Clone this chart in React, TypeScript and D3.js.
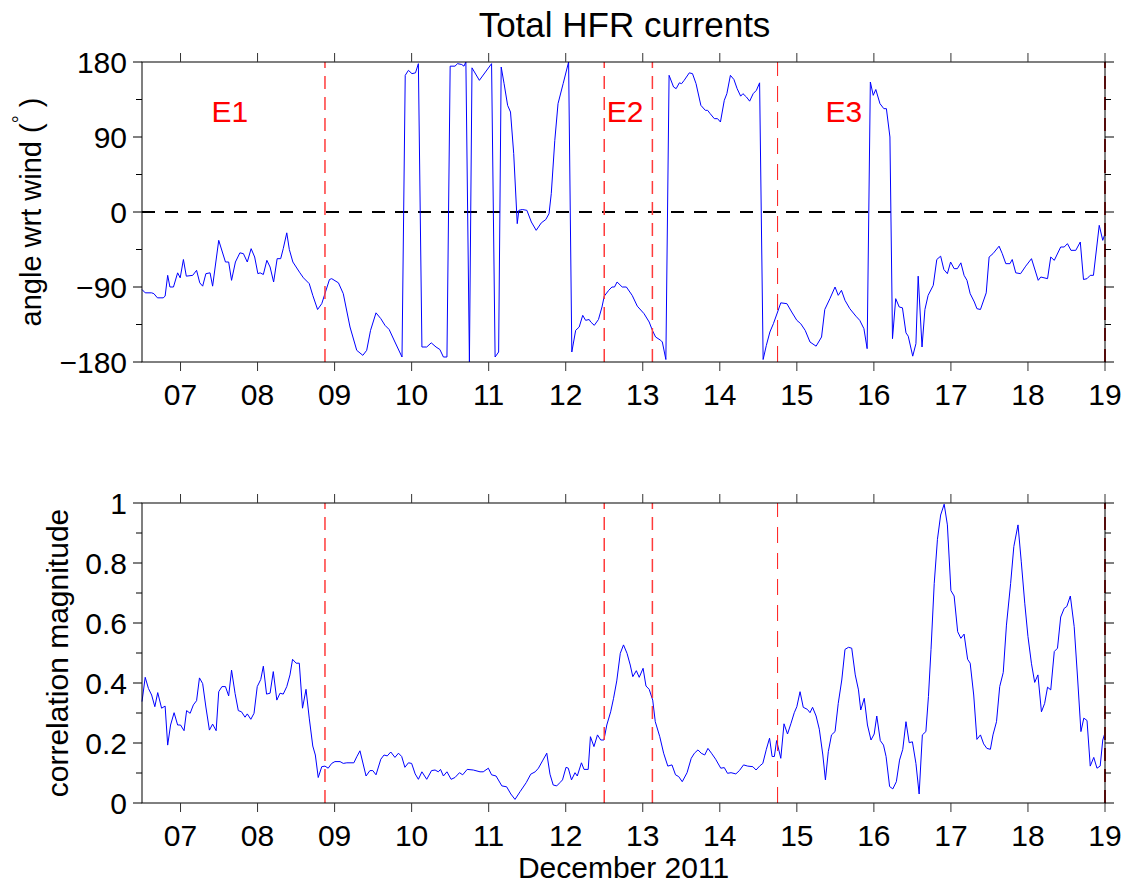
import * as d3 from "d3";

// hours after 06 Dec 2011 12:00, angle of current wrt wind (deg)
const angleSeries: [number, number][] = [
  [0, -93], [1, -97], [3, -97], [3.7, -98], [4.8, -103], [6.6, -103], [7.2, -101], [8, -76], [8.7, -90], [9.8, -90],
  [11.1, -73], [11.9, -79], [12.9, -57], [13.8, -77], [15.8, -76], [17, -70], [18, -85], [18.9, -89], [19.9, -74], [21.2, -73],
  [22, -89], [23.9, -34], [26, -60], [27, -60], [27.9, -82], [29.1, -60], [30.5, -49], [31.6, -50], [32.8, -60], [34, -44],
  [35.1, -54], [36.1, -74], [36.8, -73], [37.8, -75], [38.9, -58], [39.9, -66], [41, -84], [42.1, -56], [43.2, -56], [44, -44],
  [45.1, -25], [45.9, -45], [47, -60], [49.2, -73], [50.3, -79], [52.1, -86], [53.2, -100], [54.7, -117], [56, -110], [58.4, -81],
  [59.1, -80], [61.2, -85], [62.7, -98], [64.8, -138], [66.9, -166], [68.8, -172], [70, -166], [71.2, -142], [72.9, -121], [74.4, -128],
  [75.7, -136], [77, -141], [78.8, -156], [81, -174], [82, 164], [83, 170], [84.1, 166], [85.2, 167], [86.1, 178], [87.2, -162],
  [88.7, -162], [90.1, -157], [91.6, -162], [92.8, -165], [93.9, -174], [95, -174], [96, 175], [97.5, 175], [98.3, 178], [99.6, 177],
  [100.3, 175], [100.9, 180], [102, -180], [102.8, 173], [105.1, 158], [108.9, 178], [110, -174], [111.1, -168], [111.9, 174], [112.8, 154],
  [113.9, 128], [114.8, 120], [115.8, 70], [116.9, -14], [117.4, 2], [118.5, 3], [119.9, 2], [121.3, -12], [122.8, -22], [124.4, -13],
  [125.8, -9], [126.8, -2], [127.5, 22], [128.6, 86], [129.6, 130], [131.2, 154], [132.9, 180], [133.9, -168], [135.1, -142], [136.2, -138],
  [137.3, -124], [138.2, -130], [139.3, -129], [139.8, -132], [140.9, -136], [142.2, -129], [143.3, -114], [144, -101], [145.4, -94], [146.4, -90],
  [147.2, -90], [148, -84], [149.6, -90], [150.9, -90], [152.7, -100], [154.3, -113], [156.4, -122], [158, -132], [159, -142], [160, -150],
  [161.6, -154], [162.1, -156], [163.2, -177], [164.2, 164], [165.6, 150], [166.4, 148], [167.4, 155], [168.1, 154], [168.9, 158], [170.5, 167],
  [171.5, 166], [172.6, 154], [174.1, 128], [175.5, 122], [176.2, 122], [177, 118], [178.3, 112], [179.3, 112], [180.2, 108], [181.4, 134],
  [182.2, 142], [183.3, 164], [184.4, 159], [185.4, 148], [186.5, 139], [187.2, 142], [188.3, 138], [189.3, 133], [190.4, 142], [191.4, 146],
  [192.4, 155], [193.5, -177], [194.5, -160], [195.6, -144], [196.7, -134], [198, -120], [199, -109], [200.9, -110], [202.4, -120], [204, -130],
  [205.2, -134], [206.6, -142], [208.1, -156], [210, -161], [211.7, -150], [212.7, -117], [214.3, -104], [215.9, -90], [216.9, -100], [217.9, -94],
  [219, -106], [220.5, -116], [222.4, -125], [223.6, -130], [224.9, -140], [225.9, -164], [226.9, 156], [227.8, 140], [228.6, 147], [229.9, 130],
  [231.1, 124], [231.9, 124], [233, 90], [233.8, -152], [234.8, -104], [235.9, -114], [236.9, -115], [238, -145], [238.7, -149], [240.1, -173],
  [241.1, -158], [241.8, -77], [243, -162], [243.9, -117], [244.9, -100], [246.5, -88], [247.6, -57], [248.8, -53], [249.8, -69], [250.9, -74],
  [251.9, -60], [253, -68], [254, -68], [255.1, -61], [256.1, -76], [257, -82], [258, -98], [259.3, -108], [260.1, -116], [261.2, -117],
  [263, -97], [263.9, -54], [265.1, -50], [267, -41], [268, -50], [269.1, -62], [270.4, -62], [271.1, -57], [272.2, -73], [273.7, -74],
  [275.3, -65], [277.1, -56], [279.2, -82], [280, -78], [282.1, -80], [283.1, -54], [284.2, -58], [286.2, -42], [287.3, -42], [288.3, -38],
  [289.4, -46], [290.9, -46], [292.3, -36], [293.3, -81], [294.4, -80], [295.4, -76], [296.4, -76], [298.2, -16], [299.3, -34], [300, -26],
];

// hours after 06 Dec 2011 12:00, correlation magnitude
const corrSeries: [number, number][] = [
  [0, 0.338], [1, 0.419], [2, 0.382], [3, 0.36], [4, 0.321], [4.9, 0.368], [6.1, 0.316], [7.2, 0.323], [8, 0.193], [8.9, 0.26],
  [10, 0.301], [11.1, 0.26], [12, 0.26], [13.1, 0.241], [13.9, 0.308], [15, 0.299], [16, 0.327], [17, 0.341], [17.9, 0.417], [18.9, 0.398],
  [19.9, 0.32], [21, 0.243], [22, 0.263], [23.1, 0.241], [23.9, 0.371], [24.9, 0.388], [26, 0.388], [27, 0.357], [27.9, 0.443], [29, 0.365],
  [30, 0.308], [31, 0.304], [32.1, 0.286], [32.8, 0.297], [33.9, 0.279], [34.9, 0.299], [35.9, 0.388], [37, 0.412], [37.8, 0.456], [38.8, 0.363],
  [39.9, 0.366], [40.9, 0.438], [42, 0.343], [43, 0.366], [44, 0.363], [45.1, 0.388], [46.1, 0.427], [46.9, 0.479], [48, 0.466], [49, 0.466],
  [50, 0.316], [51.1, 0.379], [52.1, 0.283], [53.2, 0.19], [54, 0.16], [54.9, 0.085], [56, 0.121], [57, 0.123], [58, 0.116], [59.1, 0.132],
  [60.1, 0.138], [61.7, 0.138], [62.7, 0.132], [63.8, 0.134], [64.8, 0.134], [66, 0.134], [66.9, 0.154], [67.9, 0.174], [69.8, 0.09], [71, 0.108],
  [71.9, 0.108], [72.9, 0.094], [74.4, 0.146], [75.4, 0.16], [76.4, 0.157], [77.5, 0.17], [78.8, 0.152], [79.9, 0.166], [80.9, 0.155], [81.9, 0.119],
  [83, 0.134], [84, 0.132], [85.1, 0.097], [86.1, 0.079], [87.2, 0.104], [88.7, 0.079], [90.2, 0.108], [91.3, 0.11], [92.3, 0.104], [93, 0.112],
  [93.9, 0.09], [95, 0.104], [96.3, 0.079], [97.5, 0.085], [98.9, 0.101], [99.9, 0.094], [101.3, 0.112], [103.2, 0.11], [105.3, 0.104], [106.3, 0.104],
  [107.9, 0.116], [108.9, 0.094], [110.3, 0.09], [112.1, 0.057], [113.6, 0.054], [114.9, 0.03], [116.2, 0.012], [117.8, 0.038], [119.7, 0.068], [121.1, 0.096],
  [122.5, 0.104], [123.5, 0.116], [124.9, 0.143], [126.1, 0.166], [127.1, 0.096], [128.1, 0.06], [129.2, 0.057], [130.2, 0.068], [131, 0.077], [132.1, 0.119],
  [132.8, 0.116], [133.8, 0.077], [134.9, 0.101], [135.6, 0.09], [136.9, 0.134], [137.7, 0.112], [139, 0.112], [139.7, 0.221], [140.8, 0.188], [141.9, 0.227],
  [142.9, 0.21], [143.9, 0.21], [144.8, 0.26], [146, 0.304], [146.9, 0.349], [147.9, 0.407], [149, 0.499], [150, 0.527], [151.1, 0.499], [152.1, 0.46],
  [152.9, 0.421], [154, 0.441], [154.9, 0.419], [156.1, 0.449], [157, 0.39], [158, 0.379], [159.1, 0.343], [159.9, 0.271], [161.3, 0.221], [162.5, 0.166],
  [163.8, 0.123], [165.1, 0.127], [166.2, 0.094], [167.2, 0.088], [168.3, 0.071], [169.8, 0.101], [171.1, 0.149], [172.1, 0.166], [173.2, 0.177], [174.2, 0.166],
  [175.3, 0.16], [176.3, 0.182], [177.4, 0.166], [178.7, 0.146], [180.3, 0.116], [181.4, 0.118], [182.4, 0.099], [183.5, 0.101], [185, 0.097], [186.1, 0.108],
  [187.4, 0.127], [188.7, 0.123], [190.3, 0.121], [191.3, 0.11], [192.4, 0.123], [193.4, 0.132], [194.5, 0.179], [195.5, 0.216], [196.3, 0.155], [197, 0.155],
  [197.7, 0.208], [199, 0.149], [200, 0.264], [201.1, 0.23], [202.2, 0.266], [203.2, 0.301], [204, 0.321], [205, 0.371], [206, 0.319], [207.3, 0.312],
  [208.1, 0.301], [208.9, 0.319], [210, 0.29], [211, 0.246], [212.1, 0.16], [212.9, 0.077], [213.8, 0.171], [214.8, 0.227], [215.9, 0.238], [216.9, 0.332],
  [218, 0.41], [219, 0.512], [220.1, 0.519], [221.1, 0.516], [222.2, 0.427], [223.2, 0.377], [223.9, 0.31], [225, 0.349], [226, 0.26], [227.1, 0.21],
  [228.1, 0.23], [228.9, 0.29], [230, 0.208], [231, 0.193], [231.8, 0.155], [232.9, 0.055], [233.9, 0.047], [235, 0.071], [236, 0.143], [237, 0.179],
  [238, 0.271], [239, 0.201], [240, 0.204], [241.1, 0.132], [242.1, 0.03], [243.1, 0.227], [244.2, 0.238], [245, 0.355], [245.8, 0.512], [246.8, 0.732],
  [247.8, 0.879], [248.8, 0.96], [249.9, 0.996], [250.9, 0.927], [252, 0.708], [253, 0.69], [254.1, 0.571], [255.1, 0.549], [256.1, 0.563], [257.2, 0.479],
  [258, 0.466], [259.1, 0.36], [260.1, 0.212], [261.2, 0.227], [262.2, 0.197], [263.2, 0.182], [264.3, 0.179], [265.1, 0.227], [266.2, 0.271], [267.2, 0.388],
  [268.3, 0.435], [269.3, 0.593], [270.6, 0.732], [271.6, 0.855], [272.9, 0.927], [273.9, 0.806], [275, 0.666], [276, 0.555], [277.1, 0.464], [278.1, 0.402],
  [279.1, 0.427], [280.2, 0.304], [281.2, 0.332], [282.1, 0.386], [283.1, 0.377], [284.2, 0.505], [285.2, 0.516], [286.2, 0.62], [287.3, 0.649], [288.1, 0.655],
  [289.2, 0.69], [290.4, 0.588], [291.5, 0.41], [292.5, 0.238], [293.4, 0.283], [294.4, 0.275], [295.4, 0.123], [296.5, 0.152], [297.5, 0.116], [298.5, 0.123],
  [299.3, 0.21], [300, 0.234],
];

const startDay = 6.5; // series start, day of December
const dayTicks = [7, 8, 9, 10, 11, 12, 13, 14, 15, 16, 17, 18, 19];
const angleTicks = [-180, -90, 0, 90, 180];
const angleMinor = [-135, -45, 45, 135];
const corrTicks = [0, 0.2, 0.4, 0.6, 0.8, 1];
const corrMinor = [0.1, 0.3, 0.5, 0.7, 0.9];
const eventDays = [8.875, 12.5, 13.125];
const e3Day = 14.75;
const endDay = 19;
const eventLabels = [
  { text: "E1", day: 7.64 },
  { text: "E2", day: 12.77 },
  { text: "E3", day: 15.61 },
];
const eventLabelAngle = 108;

const W = 1127;
const H = 883;
const FONT = "'Liberation Sans', Arial, Helvetica, sans-serif";
const left = 142;
const right = 1105;

const x = d3.scaleLinear().domain([6.5, 19]).range([left, right]);
const yAngle = d3.scaleLinear().domain([-180, 180]).range([362, 62]);
const yCorr = d3.scaleLinear().domain([0, 1]).range([803, 503]);

const fmtDay = (d: number) => (d < 10 ? "0" + d : String(d));
const fmtAngle = (v: number) => (v < 0 ? "\u2212" + Math.abs(v) : String(v));
const fmtCorr = (v: number) => (v === 0 || v === 1 ? String(v) : d3.format(".1f")(v));

function Frame({
  y,
  ticks,
  minor,
  fmt,
}: {
  y: d3.ScaleLinear<number, number>;
  ticks: number[];
  minor: number[];
  fmt: (v: number) => string;
}) {
  const [y0, y1] = y.range();
  const top = Math.min(y0, y1);
  const bottom = Math.max(y0, y1);
  return (
    <g>
      <rect x={left} y={top} width={right - left} height={bottom - top} fill="none" stroke="#000" strokeWidth={1} />
      {dayTicks.map((d) => (
        <g key={d}>
          <line x1={x(d)} x2={x(d)} y1={top} y2={top - 9} stroke="#333" strokeWidth={1} />
          <line x1={x(d)} x2={x(d)} y1={bottom} y2={bottom + 9} stroke="#333" strokeWidth={1} />
          <text x={x(d)} y={bottom + 43} textAnchor="middle" fontSize={30} fontFamily={FONT} fill="#000">
            {fmtDay(d)}
          </text>
        </g>
      ))}
      {ticks.map((v) => (
        <g key={v}>
          <line x1={left} x2={left - 9} y1={y(v)} y2={y(v)} stroke="#000" strokeWidth={1} />
          <line x1={right} x2={right + 9} y1={y(v)} y2={y(v)} stroke="#000" strokeWidth={1} />
          <text x={left - 15} y={y(v) + 11} textAnchor="end" fontSize={30} fontFamily={FONT} fill="#000">
            {fmt(v)}
          </text>
        </g>
      ))}
      {minor.map((v) => (
        <g key={v}>
          <line x1={left} x2={left - 6} y1={y(v)} y2={y(v)} stroke="#000" strokeWidth={1} />
          <line x1={right} x2={right + 6} y1={y(v)} y2={y(v)} stroke="#000" strokeWidth={1} />
        </g>
      ))}
    </g>
  );
}

function EventLines({ y }: { y: d3.ScaleLinear<number, number> }) {
  const [y0, y1] = y.range();
  return (
    <g>
      {eventDays.map((d) => (
        <line key={d} x1={x(d)} x2={x(d)} y1={y0} y2={y1} stroke="#ff3b3b" strokeWidth={1.5} strokeDasharray="13 8" />
      ))}
      <line x1={x(e3Day)} x2={x(e3Day)} y1={y0} y2={y1} stroke="#ff1a1a" strokeWidth={1} strokeDasharray="16 10" />
      <line x1={x(endDay)} x2={x(endDay)} y1={y0} y2={y1} stroke="#a81818" strokeWidth={2} strokeDasharray="13 8" />
    </g>
  );
}

export default function App() {
  const angleLine = d3
    .line<[number, number]>()
    .x((d) => x(startDay + d[0] / 24))
    .y((d) => yAngle(d[1]));
  const corrLine = d3
    .line<[number, number]>()
    .x((d) => x(startDay + d[0] / 24))
    .y((d) => yCorr(d[1]));

  return (
    <svg width={W} height={H} style={{ position: "absolute", left: 0, top: 0, background: "#fff" }}>
      <rect width={W} height={H} fill="#fff" />
      <text x={(left + right) / 2 + 1} y={37} textAnchor="middle" fontSize={35} fontFamily={FONT} fill="#000">
        Total HFR currents
      </text>

      {/* top panel */}
      <line x1={left} x2={right} y1={yAngle(0)} y2={yAngle(0)} stroke="#000" strokeWidth={2} strokeDasharray="13 10" />
      <path d={angleLine(angleSeries) ?? ""} fill="none" stroke="#0000ff" strokeWidth={1} />
      <EventLines y={yAngle} />
      {eventLabels.map((e) => (
        <text key={e.text} x={x(e.day)} y={yAngle(eventLabelAngle)} textAnchor="middle" fontSize={30} fontFamily={FONT} fill="#ff0000">
          {e.text}
        </text>
      ))}
      <Frame y={yAngle} ticks={angleTicks} minor={angleMinor} fmt={fmtAngle} />
      <text transform={`translate(41,${(yAngle(-180) + yAngle(180)) / 2}) rotate(-90)`} textAnchor="middle" fontSize={29} fontFamily={FONT} fill="#000">
        angle wrt wind (
        <tspan dy={-14} fontSize={20}>
          °
        </tspan>
        <tspan dy={14}> )</tspan>
      </text>

      {/* bottom panel */}
      <path d={corrLine(corrSeries) ?? ""} fill="none" stroke="#0000ff" strokeWidth={1} />
      <EventLines y={yCorr} />
      <Frame y={yCorr} ticks={corrTicks} minor={corrMinor} fmt={fmtCorr} />
      <text transform={`translate(68,${(yCorr(0) + yCorr(1)) / 2}) rotate(-90)`} textAnchor="middle" fontSize={30} fontFamily={FONT} fill="#000">
        correlation magnitude
      </text>
      <text x={(left + right) / 2} y={878} textAnchor="middle" fontSize={30} fontFamily={FONT} fill="#000">
        December 2011
      </text>
    </svg>
  );
}
